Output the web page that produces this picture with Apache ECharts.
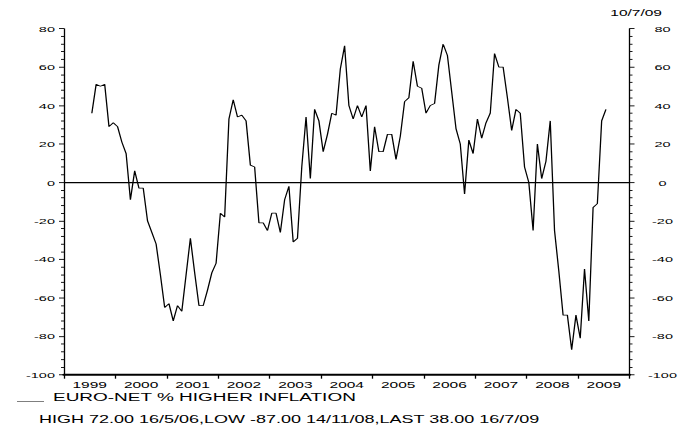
<!DOCTYPE html>
<html>
<head>
<meta charset="utf-8">
<script src="https://cdn.jsdelivr.net/npm/echarts@6/dist/echarts.min.js"></script>
<style>
  html, body { margin: 0; padding: 0; background: #fff; overflow: hidden; }
  /* the reference is squashed vertically, so draw tall and scale down */
  #chart { width: 686px; height: 764px; transform: scaleY(0.5602); transform-origin: 0 0; }
</style>
</head>
<body>
<div id="chart"></div>
<script>
const yearLabels = ['1999', '2000', '2001', '2002', '2003', '2004', '2005', '2006', '2007', '2008', '2009'];
const firstMonth = 6; // Jul 1999, months counted from Jan 1999
const netHigher = [
  36, 51, 50, 51, 29, 31,
  29, 21, 15, -9, 6, -3, -3, -20, -26, -32, -48, -65,
  -63, -72, -64, -67, -48, -29, -47, -64, -64, -56, -47, -42,
  -16, -18, 33, 43, 34, 35, 32, 9, 8, -21, -21, -25,
  -16, -16, -26, -9, -2, -31, -29, 8, 34, 2, 38, 32,
  16, 25, 36, 35, 59, 71, 40, 33, 40, 34, 40, 6,
  29, 16, 16, 25, 25, 12, 24, 42, 44, 63, 50, 49,
  36, 40, 41, 61, 72, 66, 47, 28, 20, -6, 22, 15,
  33, 23, 31, 36, 67, 60, 60, 44, 27, 38, 36, 8,
  0, -25, 20, 2, 11, 32, -25, -46, -69, -69, -87, -69,
  -81, -45, -72, -13, -11, 32, 38
];
const seriesName = 'EURO-NET % HIGHER INFLATION';
const statLine = 'HIGH 72.00 16/5/06,LOW -87.00 14/11/08,LAST 38.00 16/7/09';
const dateStamp = '10/7/09';

const font = '"Liberation Sans", Arial, sans-serif';
const points = netHigher.map((v, i) => [firstMonth + i + 0.5, v]);

const yAxisBase = {
  type: 'value',
  min: -100,
  max: 80,
  interval: 20,
  axisLine: {show: true, onZero: false, lineStyle: {color: '#000', width: 1.3}},
  axisTick: {show: true, inside: false, length: 5, lineStyle: {color: '#000', width: 1.6}},
  minorTick: {show: true, splitNumber: 5, length: 3, lineStyle: {color: '#000', width: 1.6}},
  splitLine: {show: false},
  axisLabel: {color: '#000', fontSize: 14.5, fontFamily: font, margin: 9, showMinLabel: true, showMaxLabel: true}
};

const chart = echarts.init(document.getElementById('chart'), null, {renderer: 'svg'});
chart.setOption({
  animation: false,
  backgroundColor: '#fff',
  title: {
    text: dateStamp,
    right: 19,
    top: 11,
    textStyle: {color: '#000', fontSize: 15.5, fontWeight: 'normal', fontFamily: font}
  },
  grid: {left: 64, right: 56.5, top: 51, bottom: 95, outerBoundsMode: 'none'},
  legend: {
    left: 12,
    top: 695,
    itemWidth: 31,
    itemHeight: 16,
    icon: 'path://M0,0L31,0L31,0.05Z M0,15L27,15L27,16L0,16Z',
    textStyle: {color: '#000', fontSize: 19, fontFamily: font},
    data: [seriesName]
  },
  xAxis: [
    {
      type: 'category',
      data: yearLabels,
      boundaryGap: true,
      position: 'bottom',
      axisLine: {onZero: false, lineStyle: {color: '#000', width: 3.5}},
      axisTick: {show: true, length: 7, lineStyle: {color: '#000', width: 1.3}},
      axisLabel: {color: '#000', fontSize: 15.5, fontFamily: font, margin: 10, interval: 0}
    },
    {type: 'value', min: 0, max: 132, show: false}
  ],
  yAxis: [
    Object.assign({}, yAxisBase, {position: 'left'}),
    Object.assign({}, yAxisBase, {
      position: 'right',
      axisLabel: Object.assign({}, yAxisBase.axisLabel, {align: 'center', margin: 33})
    })
  ],
  series: [{
    name: seriesName,
    type: 'line',
    xAxisIndex: 1,
    yAxisIndex: 0,
    data: points,
    showSymbol: false,
    itemStyle: {color: '#000'},
    lineStyle: {color: '#000', width: 1.3},
    markLine: {
      silent: true,
      symbol: ['none', 'none'],
      label: {show: false},
      lineStyle: {color: '#000', width: 2.4, type: 'solid'},
      data: [{yAxis: 0}]
    }
  }],
  graphic: [{
    type: 'text',
    left: 39,
    top: 740,
    style: {text: statLine, fill: '#000', font: '18px ' + font}
  }]
});
</script>
</body>
</html>
